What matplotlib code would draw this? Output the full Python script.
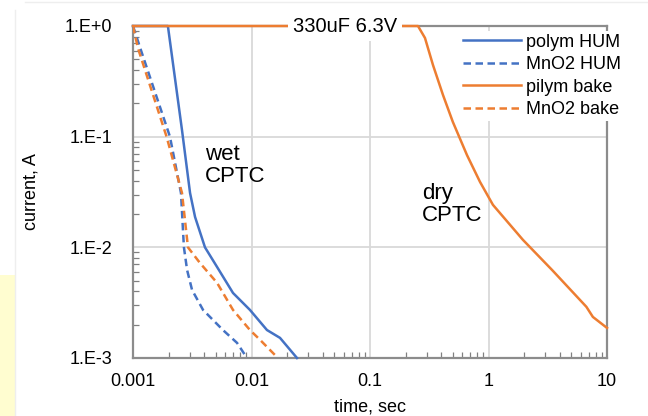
import numpy as np
import matplotlib.pyplot as plt
from matplotlib.ticker import FixedLocator, FixedFormatter, LogLocator, NullFormatter
from matplotlib.patches import Rectangle
from matplotlib.lines import Line2D

plt.rcParams['font.family'] = ['Liberation Sans', 'DejaVu Sans']

# polym HUM (blue solid)
t_polym_hum = [0.001, 0.00197, 0.00259, 0.00303, 0.00334, 0.00405, 0.00512, 0.00698, 0.0097, 0.0135, 0.0174, 0.0242]
i_polym_hum = [1.0, 1.0, 0.115, 0.031, 0.0188, 0.0100, 0.00665, 0.00387, 0.00272, 0.00179, 0.00152, 0.001]

# MnO2 HUM (blue dashed)
t_mno2_hum = [0.001, 0.00115, 0.00205, 0.00254, 0.00264, 0.00269, 0.00286, 0.00315, 0.0039, 0.00574, 0.00755, 0.00916]
i_mno2_hum = [1.0, 0.633, 0.1, 0.031, 0.0144, 0.0100, 0.00625, 0.00412, 0.00272, 0.00179, 0.00137, 0.001]

# pilym bake (orange solid)
t_pilym_bake = [0.001, 0.254, 0.291, 0.34, 0.413, 0.50, 0.659, 0.848, 1.09, 1.95, 3.46, 6.7, 7.6, 10.0]
i_pilym_bake = [1.0, 1.0, 0.78, 0.444, 0.238, 0.136, 0.068, 0.039, 0.0242, 0.0117, 0.0062, 0.0029, 0.00235, 0.00187]

# MnO2 bake (orange dashed)
t_mno2_bake = [0.001, 0.0011, 0.00192, 0.00259, 0.00291, 0.00367, 0.00512, 0.00698, 0.0097, 0.0118, 0.0167]
i_mno2_bake = [1.0, 0.633, 0.1, 0.031, 0.0100, 0.00723, 0.00478, 0.00272, 0.00179, 0.00146, 0.001]

x_ticks = [0.001, 0.01, 0.1, 1, 10]
x_labels = ['0.001', '0.01', '0.1', '1', '10']
y_ticks = [1e-3, 1e-2, 1e-1, 1]
y_labels = ['1.E-3', '1.E-2', '1.E-1', '1.E+0']

blue = '#4472C4'
orange = '#ED7D31'
fs = 13

fig = plt.figure(figsize=(6.48, 4.16), dpi=100)
ax = fig.add_axes([133/648, 1-358/416, (607-133)/648, (358-26)/416])

dash = (0, (3, 1.8))
ax.plot(t_polym_hum, i_polym_hum, color=blue, lw=1.8, label='polym HUM', clip_on=False, zorder=5)
ax.plot(t_mno2_hum, i_mno2_hum, color=blue, lw=1.8, ls=dash, label='MnO2 HUM', zorder=5)
ax.plot(t_pilym_bake, i_pilym_bake, color=orange, lw=1.8, label='pilym bake', clip_on=False, zorder=6)
ax.plot(t_mno2_bake, i_mno2_bake, color=orange, lw=1.8, ls=dash, label='MnO2 bake', zorder=5)

ax.set_xscale('log')
ax.set_yscale('log')
ax.set_xlim(0.001, 10)
ax.set_ylim(0.001, 1)

ax.xaxis.set_major_locator(FixedLocator(x_ticks))
ax.xaxis.set_major_formatter(FixedFormatter(x_labels))
ax.yaxis.set_major_locator(FixedLocator(y_ticks))
ax.yaxis.set_major_formatter(FixedFormatter(y_labels))
ax.xaxis.set_minor_locator(LogLocator(base=10, subs=np.arange(2, 10)))
ax.yaxis.set_minor_locator(LogLocator(base=10, subs=np.arange(2, 10)))
ax.xaxis.set_minor_formatter(NullFormatter())
ax.yaxis.set_minor_formatter(NullFormatter())

ax.tick_params(which='major', length=0, labelsize=fs)
ax.tick_params(axis='y', which='major', pad=15)
ax.tick_params(axis='x', which='major', pad=11)
ax.tick_params(which='minor', direction='in', length=4, width=0.9, color='#808080')
ax.grid(True, which='major', color='#d9d9d9', lw=1.3)
ax.set_axisbelow(True)
for s in ax.spines.values():
    s.set_color('#8c8c8c')
    s.set_linewidth(1.6)

ax.set_xlabel('time, sec', fontsize=fs, labelpad=6)
ax.set_ylabel('current, A', fontsize=fs, labelpad=18)

ax.text(0.447, 1.0, '330uF 6.3V', transform=ax.transAxes, ha='center', va='center',
        fontsize=14.5, zorder=10,
        bbox=dict(boxstyle='square,pad=0.25', facecolor='white', edgecolor='none'))
ax.text(0.00405, 0.085, 'wet\nCPTC', fontsize=16, va='top', ha='left', linespacing=1.05)
ax.text(0.275, 0.038, 'dry\nCPTC', fontsize=16, va='top', ha='left', linespacing=1.05)

leg = ax.legend(loc='upper left', bbox_to_anchor=(0.69, 0.985), frameon=True,
                fontsize=fs, handlelength=3.2, handletextpad=0.3, labelspacing=0.3,
                borderpad=0.15, borderaxespad=0)
leg.get_frame().set_edgecolor('none')
leg.get_frame().set_facecolor('white')
leg.get_frame().set_alpha(1)
leg.get_frame().set_boxstyle('square', pad=0)
leg.set_zorder(8)

# decoration: light yellow strip and faint border
fig.patches.append(Rectangle((0, 0), 15/648, 141/416, transform=fig.transFigure,
                             facecolor='#fffdd0', edgecolor='none'))
fig.add_artist(Line2D([25/648, 1], [1-2/416, 1-2/416], color='#eeeeee', lw=1))
fig.add_artist(Line2D([15/648, 15/648], [0, 1-10/416], color='#eeeeee', lw=1))

fig.savefig('out.png', dpi=100)
